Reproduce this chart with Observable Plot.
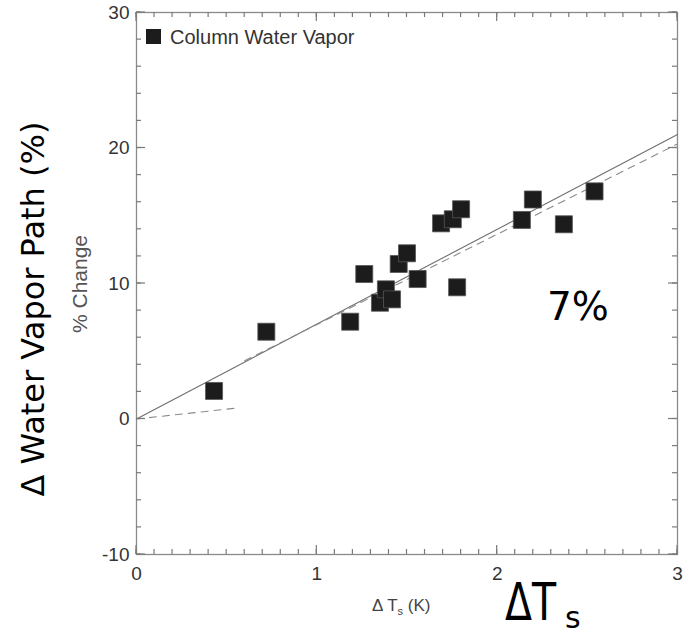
<!DOCTYPE html>
<html><head><meta charset="utf-8">
<script src="https://cdn.jsdelivr.net/npm/d3@7"></script>
<script src="https://cdn.jsdelivr.net/npm/@observablehq/plot@0.6"></script>
<style>
body{margin:0;background:#fff}
#chart{position:relative;width:689px;height:633px;overflow:hidden}
</style>
</head><body><div id="chart"></div>
<script>
// Data
const deltaTs   = [0.43, 0.72, 1.185, 1.263, 1.35, 1.383, 1.417, 1.454, 1.50, 1.559, 1.689, 1.754, 1.778, 1.80, 2.137, 2.198, 2.37, 2.54];
const pctChange = [2.07, 6.44, 7.18, 10.70, 8.58, 9.57, 8.83, 11.44, 12.23, 10.33, 14.44, 14.74, 9.72, 15.48, 14.69, 16.2, 14.37, 16.8];
const fitX = [0, 3];
const fitY = [0, 21.0];
const dashX = [0.6, 3.0];
const dashY = [4.3, 20.3];
const dashLowX = [0, 0.55];
const dashLowY = [0, 0.8];
const xMajor = [0, 1, 2, 3];
const xMinor = [0,0.1,0.2,0.3,0.4,0.5,0.6,0.7,0.8,0.9,1,1.1,1.2,1.3,1.4,1.5,1.6,1.7,1.8,1.9,2,2.1,2.2,2.3,2.4,2.5,2.6,2.7,2.8,2.9,3];
const yMajor = [-10, 0, 10, 20, 30];
const yMinor = [-10,-8,-6,-4,-2,0,2,4,6,8,10,12,14,16,18,20,22,24,26,28,30];
const legendLabel = "Column Water Vapor";

const points = deltaTs.map((x, i) => ({x, y: pctChange[i]}));
const fit = fitX.map((x, i) => ({x, y: fitY[i]}));
const dash = dashX.map((x, i) => ({x, y: dashY[i]}));
const dashLow = dashLowX.map((x, i) => ({x, y: dashLowY[i]}));

const chartW = 689, chartH = 633, mL = 136, mR = 12, mT = 12, mB = 79;
const axisGray = "#7a7a7a";
const minorLen = 5, majorLen = 9;

const plot = Plot.plot({
  width: chartW, height: chartH,
  marginLeft: mL, marginRight: mR, marginTop: mT, marginBottom: mB,
  style: {background: "#fff", fontFamily: "'Liberation Sans', Arial, sans-serif", fontSize: "19px", color: "#333", overflow: "visible"},
  x: {domain: [0, 3]},
  y: {domain: [-10, 30]},
  marks: [
    Plot.frame({stroke: "#8a8a8a", strokeWidth: 1.3}),
    Plot.axisX({ticks: xMajor, anchor: "bottom", tickSize: 0, tickPadding: 12, fill: "#333", label: null, tickFormat: d => String(d)}),
    Plot.axisY({ticks: yMajor, anchor: "left", tickSize: 0, tickPadding: 7, fill: "#333", label: null, tickFormat: d => String(d)}),
    Plot.line(fit, {x: "x", y: "y", stroke: "#6e6e6e", strokeWidth: 1.1}),
    Plot.line(dash, {x: "x", y: "y", stroke: "#8a8a8a", strokeWidth: 1.1, strokeDasharray: "7,6"}),
    Plot.line(dashLow, {x: "x", y: "y", stroke: "#8a8a8a", strokeWidth: 1.1, strokeDasharray: "7,6"}),
    Plot.dot(points, {x: "x", y: "y", symbol: "square", r: 9.6, fill: "#1c1c1c", stroke: "#555", strokeWidth: 0.8})
  ]
});
document.getElementById("chart").appendChild(plot);

const svg = d3.select(plot);
// inward ticks on all four sides, positioned through the plot's own scales
const sx = plot.scale("x"), sy = plot.scale("y");
const edgeL = mL, edgeR = chartW - mR, edgeT = mT, edgeB = chartH - mB;
const tg = svg.append("g").attr("stroke", axisGray).attr("stroke-width", 1.2);
function addX(values, len) {
  values.forEach(v => {
    const px = sx.apply(v);
    tg.append("line").attr("x1", px).attr("x2", px).attr("y1", edgeB).attr("y2", edgeB - len);
    tg.append("line").attr("x1", px).attr("x2", px).attr("y1", edgeT).attr("y2", edgeT + len);
  });
}
function addY(values, len) {
  values.forEach(v => {
    const py = sy.apply(v);
    tg.append("line").attr("y1", py).attr("y2", py).attr("x1", edgeL).attr("x2", edgeL + len);
    tg.append("line").attr("y1", py).attr("y2", py).attr("x1", edgeR).attr("x2", edgeR - len);
  });
}
addX(xMinor, minorLen); addX(xMajor, majorLen);
addY(yMinor, minorLen); addY(yMajor, majorLen);

const sans = "'Liberation Sans', Arial, sans-serif";
const dejavu = "'DejaVu Sans', sans-serif";
// legend
svg.append("rect").attr("x", 146).attr("y", 29).attr("width", 15).attr("height", 15).attr("fill", "#1c1c1c");
svg.append("text").attr("x", 170).attr("y", 44).attr("text-anchor", "start").attr("font-family", sans)
  .attr("font-size", 20).attr("fill", "#333").text(legendLabel);
// original small axis titles
svg.append("text").attr("transform", "translate(87,284) rotate(-90)").attr("text-anchor", "middle")
  .attr("font-family", sans).attr("font-size", 21).attr("fill", "#555").text("% Change");
const xt = svg.append("text").attr("x", 372).attr("y", 611).attr("text-anchor", "start").attr("font-family", sans)
  .attr("font-size", 17).attr("fill", "#444");
xt.append("tspan").text("Δ T");
xt.append("tspan").attr("font-size", 11).attr("dy", 4).text("s");
xt.append("tspan").attr("dy", -4).text(" (K)");
// overlaid annotations
svg.append("text").attr("transform", "translate(44,309) rotate(-90)").attr("text-anchor", "middle")
  .attr("font-family", dejavu).attr("font-size", 32).attr("fill", "#000").text("Δ Water Vapor Path (%)");
svg.append("text").attr("x", 547).attr("y", 320).attr("text-anchor", "start").attr("font-family", dejavu)
  .attr("font-size", 39).attr("fill", "#000").text("7%");
svg.append("text").attr("transform", "translate(505,620) scale(0.76,1)").attr("text-anchor", "start").attr("font-family", dejavu)
  .attr("font-size", 52).attr("fill", "#000").text("ΔT");
svg.append("text").attr("x", 565).attr("y", 628).attr("text-anchor", "start").attr("font-family", dejavu)
  .attr("font-size", 30).attr("fill", "#000").text("s");
</script>
</body></html>
